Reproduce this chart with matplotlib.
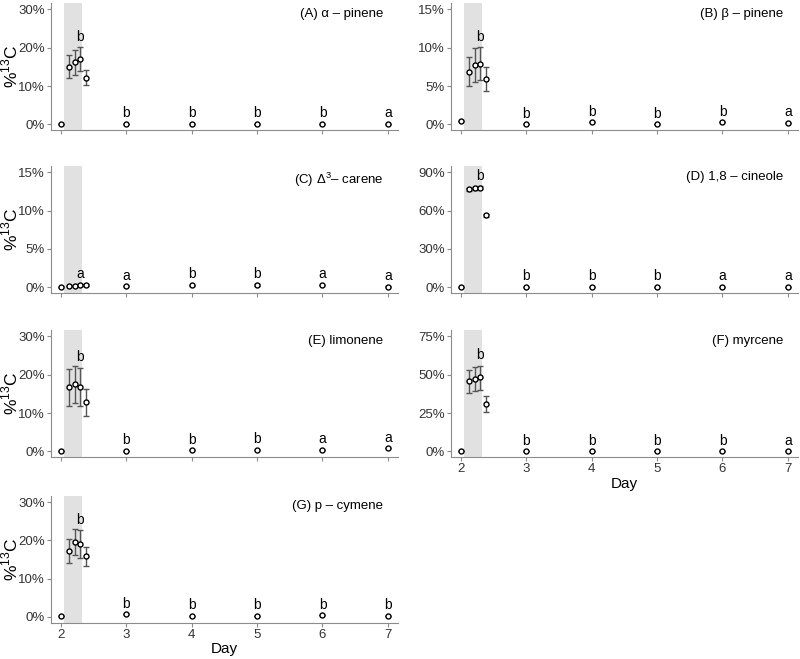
import matplotlib.pyplot as plt
import numpy as np

plt.rcParams['font.family'] = ['Liberation Sans', 'DejaVu Sans']
plt.rcParams['mathtext.fontset'] = 'custom'
plt.rcParams['mathtext.rm'] = 'Liberation Sans'

# sampling times (day 2 pulse cluster, then daily)
days = [2, 2.12, 2.21, 2.29, 2.38, 3, 4, 5, 6, 7]
pulse = (2.045, 2.315)
letter_idx = [3, 5, 6, 7, 8, 9]

# values in %13C, error bar lower / upper bounds
a_mean = [0.0, 15.0, 16.2, 17.0, 12.1, 0.1, 0.1, 0.1, 0.1, 0.1]
a_lo = [0.0, 12.0, 13.0, 13.9, 10.2, 0.1, 0.1, 0.1, 0.1, 0.1]
a_hi = [0.0, 18.0, 19.3, 20.1, 14.1, 0.1, 0.1, 0.1, 0.1, 0.1]
a_let = ['b', 'b', 'b', 'b', 'b', 'a']

b_mean = [0.39, 6.87, 7.78, 7.91, 5.91, 0.04, 0.26, 0.0, 0.26, 0.22]
b_lo = [0.39, 4.96, 5.48, 5.83, 4.30, 0.04, 0.26, 0.0, 0.26, 0.22]
b_hi = [0.39, 8.78, 9.96, 10.04, 7.43, 0.04, 0.26, 0.0, 0.26, 0.22]
b_let = ['b', 'b', 'b', 'b', 'b', 'a']

c_mean = [0.09, 0.13, 0.22, 0.26, 0.26, 0.13, 0.26, 0.26, 0.30, 0.09]
c_lo = [0.09, 0.13, 0.10, 0.12, 0.12, 0.13, 0.18, 0.10, 0.25, 0.05]
c_hi = [0.09, 0.13, 0.34, 0.40, 0.40, 0.13, 0.34, 0.42, 0.35, 0.13]
c_let = ['a', 'a', 'b', 'b', 'a', 'a']

d_mean = [0.5, 76.7, 77.5, 78.0, 56.4, 0.5, 0.5, 0.5, 0.5, 0.5]
d_lo = [0.5, 75.5, 76.3, 76.8, 55.0, 0.5, 0.5, 0.5, 0.5, 0.5]
d_hi = [0.5, 77.9, 78.7, 79.2, 57.8, 0.5, 0.5, 0.5, 0.5, 0.5]
d_let = ['b', 'b', 'b', 'b', 'a', 'a']

e_mean = [0.1, 16.8, 17.6, 16.9, 12.9, 0.17, 0.26, 0.35, 0.43, 0.78]
e_lo = [0.1, 11.8, 12.7, 11.8, 9.25, 0.17, 0.26, 0.35, 0.43, 0.78]
e_hi = [0.1, 21.5, 22.4, 21.8, 16.4, 0.17, 0.26, 0.35, 0.43, 0.78]
e_let = ['b', 'b', 'b', 'b', 'a', 'a']

f_mean = [0.2, 45.7, 47.3, 48.3, 31.0, 0.1, 0.1, 0.1, 0.1, 0.1]
f_lo = [0.2, 37.9, 39.5, 40.3, 25.6, 0.1, 0.1, 0.1, 0.1, 0.1]
f_hi = [0.2, 53.1, 54.8, 55.9, 36.2, 0.1, 0.1, 0.1, 0.1, 0.1]
f_let = ['b', 'b', 'b', 'b', 'b', 'a']

g_mean = [0.26, 17.2, 19.6, 19.1, 15.8, 0.7, 0.26, 0.26, 0.43, 0.35]
g_lo = [0.26, 14.0, 16.3, 15.4, 13.4, 0.7, 0.26, 0.26, 0.43, 0.35]
g_hi = [0.26, 20.3, 23.0, 22.6, 18.3, 0.7, 0.26, 0.26, 0.43, 0.35]
g_let = ['b', 'b', 'b', 'b', 'b', 'b']

panels = [
    ("(A) α – pinene", a_mean, a_lo, a_hi, a_let, [0, 10, 20, 30]),
    ("(B) β – pinene", b_mean, b_lo, b_hi, b_let, [0, 5, 10, 15]),
    ("(C) Δ$^{3}$– carene", c_mean, c_lo, c_hi, c_let, [0, 5, 10, 15]),
    ("(D) 1,8 – cineole", d_mean, d_lo, d_hi, d_let, [0, 30, 60, 90]),
    ("(E) limonene", e_mean, e_lo, e_hi, e_let, [0, 10, 20, 30]),
    ("(F) myrcene", f_mean, f_lo, f_hi, f_let, [0, 25, 50, 75]),
    ("(G) p – cymene", g_mean, g_lo, g_hi, g_let, [0, 10, 20, 30]),
]

fig = plt.figure(figsize=(8, 6.59), dpi=100)

bottoms = [0.8027, 0.5554, 0.3065, 0.0551]
lefts = [0.06375, 0.56375]
w, h = 0.434, 0.1925
grey = '#8c8c8c'

for i, (title, mean, lo, hi, let, yt) in enumerate(panels):
    row, col = divmod(i, 2)
    ax = fig.add_axes([lefts[col], bottoms[row], w, h])
    top = yt[-1]
    ax.set_ylim(-0.05 * top, 1.055 * top)
    ax.set_xlim(1.847, 7.158)
    ax.axvspan(pulse[0], pulse[1], color='#e1e1e1', lw=0, zorder=0)

    mean = np.array(mean)
    err = np.vstack([mean - np.array(lo), np.array(hi) - mean])
    ax.errorbar(days, mean, yerr=err, fmt='none', ecolor='#555555',
                elinewidth=1, capsize=2.4, capthick=1, zorder=2)
    ax.plot(days, mean, 'o', ms=3.6, mfc='white', mec='black', mew=1, zorder=3)

    for k, l in zip(letter_idx, let):
        ax.annotate(l, (days[k], hi[k]), xytext=(0, 2.5),
                    textcoords='offset points', ha='center', va='bottom',
                    fontsize=10)

    ax.text(0.957, 0.965, title, transform=ax.transAxes, ha='right',
            va='top', fontsize=9.5)

    ax.set_yticks(yt)
    ax.set_yticklabels([f"{v}%" for v in yt], fontsize=9.5, color='#333333')
    ax.set_xticks([2, 3, 4, 5, 6, 7])
    if i in (5, 6):
        ax.set_xticklabels(['2', '3', '4', '5', '6', '7'], fontsize=9.5,
                           color='#333333')
        ax.set_xlabel("Day", fontsize=11, labelpad=1)
    else:
        ax.set_xticklabels([])
    if col == 0:
        ax.set_ylabel("%$^{13}$C", fontsize=12.5)
        ax.yaxis.set_label_coords(-0.088, 0.5)

    for s in ('top', 'right'):
        ax.spines[s].set_visible(False)
    for s in ('left', 'bottom'):
        ax.spines[s].set_color(grey)
    ax.tick_params(direction='out', length=3, color=grey, pad=1.5)

plt.savefig("out.png", dpi=100)
